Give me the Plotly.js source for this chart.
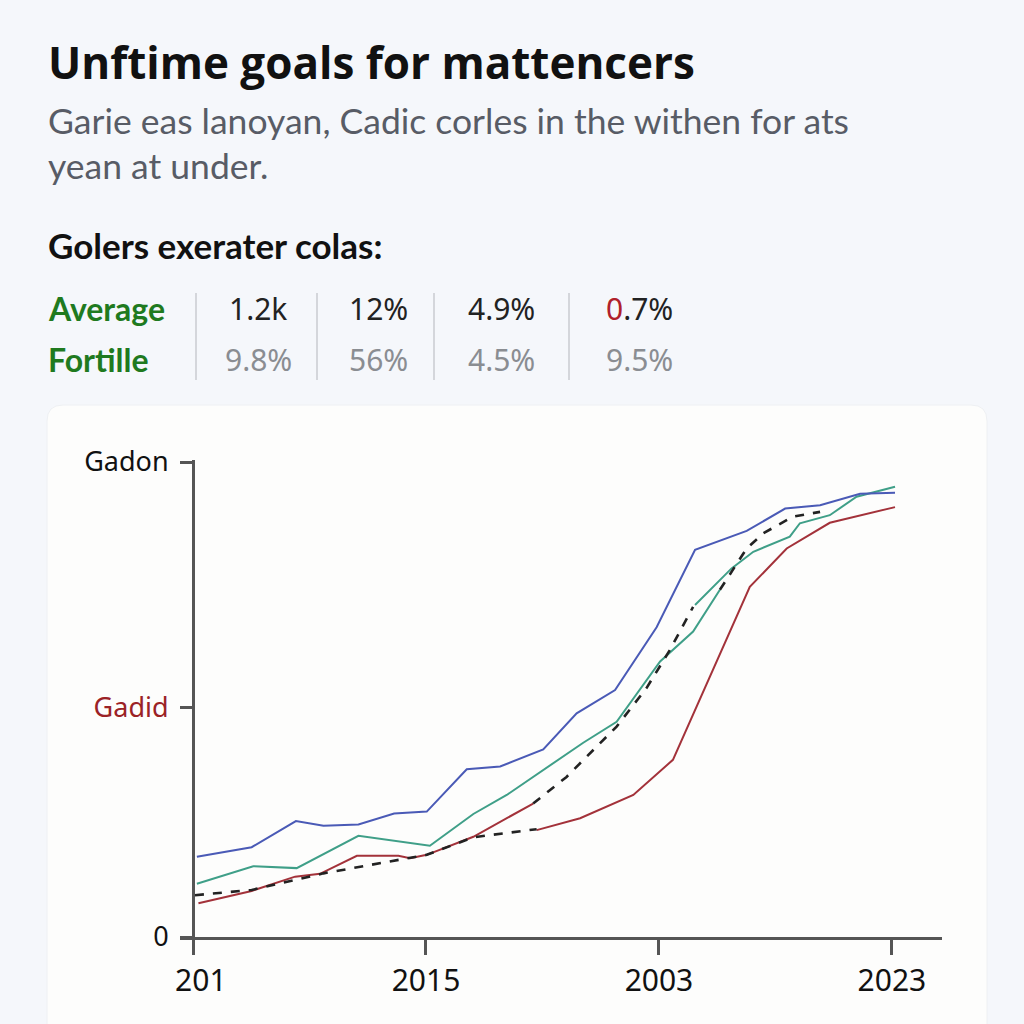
<!DOCTYPE html>
<html>
<head>
<meta charset="utf-8">
<script src="https://cdn.plot.ly/plotly-3.0.1.min.js"></script>
<style>
  html,body{margin:0;padding:0;background:#f5f7fb;}
  #chart{width:1024px;height:1024px;}
</style>
</head>
<body>
<div id="chart"></div>
<script>
// ---------- data ----------
const xTickVals = [0, 6, 12, 18];
const xTickText = ['\u00a0\u00a0201', '2015', '2003', '2023'];
const yTickVals = [0, 48.4, 100];
const yTickText = ['0', '<span style="color:#9b2226">Gadid</span>', 'Gadon'];

const blueX = [0.1, 1.51, 2.65, 3.36, 4.26, 5.18, 6.02, 7.05, 7.91, 9.02, 9.88, 10.87, 11.94, 12.93, 14.26, 15.25, 16.15, 17.18, 18.08];
const blueY = [16.9, 18.9, 24.4, 23.4, 23.7, 26.0, 26.4, 35.3, 35.9, 39.5, 47.1, 52.0, 65.2, 81.5, 85.5, 90.2, 90.9, 93.3, 93.5];

const tealX1 = [0.1, 1.55, 2.67, 4.26, 6.10, 7.22, 8.08, 9.11, 10.05, 10.91, 12.03, 12.88, 13.57];
const tealY1 = [11.2, 14.9, 14.5, 21.3, 19.2, 25.9, 29.9, 35.7, 40.9, 45.3, 58.0, 64.3, 73.1];
const tealX2 = [12.93, 13.87, 14.43, 15.37, 15.63, 16.40, 17.09, 18.08];
const tealY2 = [69.9, 77.6, 81.1, 84.3, 87.1, 88.8, 92.7, 94.8];

const dashX1 = [0.05, 1.51, 3.36, 6.02, 7.22, 8.85];
const dashY1 = [8.8, 9.9, 13.4, 17.3, 21.0, 22.7];
const dashX2 = [8.76, 9.62, 10.91, 11.68, 12.28, 12.88];
const dashY2 = [28.1, 33.7, 44.3, 52.4, 60.4, 69.5];
const dashX3 = [13.57, 14.26, 14.69, 15.45, 16.15];
const dashY3 = [73.1, 81.8, 85.0, 88.5, 89.5];

const redX1 = [0.14, 1.51, 2.63, 3.27, 4.22, 5.29, 5.59, 6.02, 7.22, 8.76];
const redY1 = [7.1, 9.7, 12.7, 13.3, 17.1, 17.1, 16.6, 17.3, 21.1, 28.1];
const redX2 = [8.85, 9.97, 11.34, 12.36, 14.34, 15.29, 16.40, 18.08];
const redY2 = [22.5, 25.0, 29.9, 37.3, 73.7, 81.8, 87.2, 90.5];

const statRows = ['Average', 'Fortille'];
const statRow1 = ['1.2k', '12%', '4.9%', '<span style="color:#b0202a">0</span>.7%'];
const statRow2 = ['9.8%', '56%', '4.5%', '9.5%'];

const titleText = 'Unftime goals for mattencers';
const subLine1 = 'Garie eas lanoyan, Cadic corles in the withen for ats';
const subLine2 = 'yean at under.';
const sectionText = 'Golers exerater colas:';

// ---------- layout helpers (pixel -> paper) ----------
const W = 1024, H = 1024;
const mL = 180, mR = 82, mT = 460, mB = 87;
const pw = W - mL - mR, ph = H - mT - mB;
const px = v => (v - mL) / pw;
const py = v => (H - mB - v) / ph;

const BLUE = '#4a5ab6', TEAL = '#3f9f88', RED = '#a3323a', DASH = '#222222';
const line = (x, y, color, dash, w) => ({
  x, y, type: 'scatter', mode: 'lines', hoverinfo: 'skip', showlegend: false,
  line: {color, width: w || 2, dash: dash || 'solid'}
});

const traces = [
  line(redX1, redY1, RED),
  line(redX2, redY2, RED),
  line(tealX1, tealY1, TEAL),
  line(tealX2, tealY2, TEAL),
  line(blueX, blueY, BLUE),
  line(dashX1, dashY1, DASH, 'dash', 2.6),
  line(dashX2, dashY2, DASH, 'dash', 2.6),
  line(dashX3, dashY3, DASH, 'dash', 2.6)
];

const FONT = 'Lato, "Noto Sans", sans-serif';
const ann = [];
ann.push({text: '<b>' + titleText + '</b>', x: px(46), y: py(62), xanchor: 'left', yanchor: 'middle',
  font: {family: '"Open Sans", sans-serif', size: 44, color: '#111111'}});
ann.push({text: subLine1, x: px(46), y: py(120), xanchor: 'left', yanchor: 'middle',
  font: {family: FONT, size: 35.5, color: '#585c66'}});
ann.push({text: subLine2, x: px(46), y: py(165), xanchor: 'left', yanchor: 'middle',
  font: {family: FONT, size: 35.5, color: '#585c66'}});
ann.push({text: '<b>' + sectionText + '</b>', x: px(46), y: py(245), xanchor: 'left', yanchor: 'middle',
  font: {family: FONT, size: 35, color: '#111111'}});

const rowY = [308, 360];
statRows.forEach((r, i) => ann.push({text: '<b>' + r + '</b>', x: px(46), y: py(rowY[i]), xanchor: 'left', yanchor: 'middle',
  font: {family: FONT, size: 32, color: '#1f7a1f'}}));
const colX = [258, 378, 501, 639];
statRow1.forEach((t, i) => ann.push({text: t, x: px(colX[i]), y: py(rowY[0]), xanchor: 'center', yanchor: 'middle',
  font: {family: '"Noto Sans", sans-serif', size: 30, color: '#222222'}}));
statRow2.forEach((t, i) => ann.push({text: t, x: px(colX[i]), y: py(rowY[1]), xanchor: 'center', yanchor: 'middle',
  font: {family: '"Noto Sans", sans-serif', size: 30, color: '#8a8d92'}}));
ann.forEach(a => { a.xref = 'paper'; a.yref = 'paper'; a.showarrow = false; });

// card + separators
const cx0 = px(47), cx1 = px(987), cy0 = py(405), cy1 = py(1040);
const rx = 16 / pw, ry = 16 / ph;
const cardPath = `M ${cx0 + rx} ${cy0} L ${cx1 - rx} ${cy0} Q ${cx1} ${cy0} ${cx1} ${cy0 - ry} L ${cx1} ${cy1} L ${cx0} ${cy1} L ${cx0} ${cy0 - ry} Q ${cx0} ${cy0} ${cx0 + rx} ${cy0} Z`;
const shapes = [{type: 'path', path: cardPath, xref: 'paper', yref: 'paper', fillcolor: '#fdfdfc',
  line: {width: 1, color: '#eef0f3'}, layer: 'below'}];
[196, 317, 434, 569].forEach(sx => shapes.push({type: 'line', xref: 'paper', yref: 'paper',
  x0: px(sx), x1: px(sx), y0: py(293), y1: py(380), line: {color: '#c9cbd0', width: 1.5}}));

const layout = {
  width: W, height: H,
  margin: {l: mL, r: mR, t: mT, b: mB},
  paper_bgcolor: '#f5f7fb', plot_bgcolor: 'rgba(0,0,0,0)',
  showlegend: false,
  xaxis: {range: [-0.335, 19.29], tickvals: xTickVals, ticktext: xTickText,
    showgrid: false, zeroline: false, showline: true, linecolor: '#555555', linewidth: 3,
    ticks: 'outside', ticklen: 15, tickwidth: 3, tickcolor: '#555555',
    tickfont: {family: '"Noto Sans", sans-serif', size: 30, color: '#111111'}, fixedrange: true},
  yaxis: {range: [0, 100.42], tickvals: yTickVals, ticktext: yTickText,
    anchor: 'free', position: 13 / pw, ticklabelstandoff: 6,
    showgrid: false, zeroline: false, showline: true, linecolor: '#555555', linewidth: 3,
    ticks: 'outside', ticklen: 12, tickwidth: 3, tickcolor: '#555555',
    tickfont: {family: '"Noto Sans", sans-serif', size: 27, color: '#111111'}, fixedrange: true},
  annotations: ann,
  shapes: shapes
};

Plotly.newPlot('chart', traces, layout, {displayModeBar: false, staticPlot: true});
</script>
</body>
</html>
